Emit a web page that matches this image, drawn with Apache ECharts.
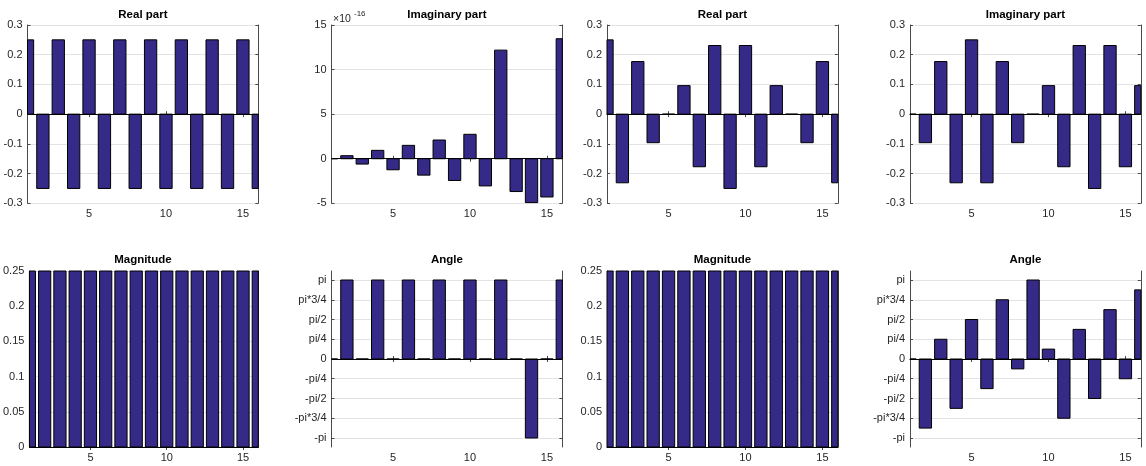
<!DOCTYPE html>
<html><head><meta charset="utf-8">
<script src="https://cdn.jsdelivr.net/npm/echarts@6/dist/echarts.min.js"></script>
<style>html,body{margin:0;padding:0;background:#fff}#c{width:1146px;height:466px}</style>
</head><body><div id="c"></div>
<script>
// ---------- data ----------
const xs = [1,2,3,4,5,6,7,8,9,10,11,12,13,14,15,16];
const realA = [0.25,-0.25,0.25,-0.25,0.25,-0.25,0.25,-0.25,0.25,-0.25,0.25,-0.25,0.25,-0.25,0.25,-0.25];
// imaginary part of first transform, in units of 1e-16
const imagA = [0,0.34,-0.6,0.94,-1.24,1.5,-1.84,2.1,-2.44,2.74,-3.05,12.18,-3.68,-4.92,-4.29,13.46];
const magA = [0.25,0.25,0.25,0.25,0.25,0.25,0.25,0.25,0.25,0.25,0.25,0.25,0.25,0.25,0.25,0.25];
const angA = [0,3.1416,0,3.1416,0,3.1416,0,3.1416,0,3.1416,0,3.1416,0,-3.1416,0,3.1416];
const realB = [0.25,-0.231,0.177,-0.096,0,0.096,-0.177,0.231,-0.25,0.231,-0.177,0.096,0,-0.096,0.177,-0.231];
const imagB = [0,-0.096,0.177,-0.231,0.25,-0.231,0.177,-0.096,0,0.096,-0.177,0.231,-0.25,0.231,-0.177,0.096];
const magB = [0.25,0.25,0.25,0.25,0.25,0.25,0.25,0.25,0.25,0.25,0.25,0.25,0.25,0.25,0.25,0.25];
const angB = [0,-2.749,0.785,-1.963,1.571,-1.178,2.356,-0.393,3.1416,0.393,-2.356,1.178,-1.571,1.963,-0.785,2.749];
const titles = ['Real part','Imaginary part','Real part','Imaginary part','Magnitude','Angle','Magnitude','Angle'];
const xTickValues = [5,10,15];
const angleTickLabels = ['-pi','-pi*3/4','-pi/2','-pi/4','0','pi/4','pi/2','pi*3/4','pi'];
const exponentLabel = ['\u00d710', '-16'];

// ---------- chart ----------
const PI = Math.PI;
const angleTickValues = angleTickLabels.map((_, k) => (k - 4) * PI / 4);
const seriesVals = [realA, imagA, realB, imagB, magA, angA, magB, angB];
const yCfg = [
  {min:-0.3,max:0.3,interval:0.1},
  {min:-5,max:15,interval:5},
  {min:-0.3,max:0.3,interval:0.1},
  {min:-0.3,max:0.3,interval:0.1},
  {min:0,max:0.25,interval:0.05},
  {min:-3.5,max:3.5,angle:true},
  {min:0,max:0.25,interval:0.05},
  {min:-3.5,max:3.5,angle:true}
];
const lefts = [27.5, 331.5, 607, 910];
const W = 230.8;
const rowTop = [25, 271], rowH = [178.3, 176];
const titleY = [15, 260];
const FONT = "'Liberation Sans', Arial, Helvetica, sans-serif";
const FS = 11;
const AX = '#4a4a4a', TXT = '#262626', GRID = '#e3e3e3', BAR = '#352a87';

const grid = [], xAxis = [], yAxis = [], series = [], graphic = [];

function renderBar(params, api) {
  const x = api.value(0), y = api.value(1);
  const p0 = api.coord([x - 0.4, y]);
  const p1 = api.coord([x + 0.4, 0]);
  const rect = {x: p0[0], y: Math.min(p0[1], p1[1]), width: p1[0] - p0[0], height: Math.abs(p1[1] - p0[1])};
  const cs = params.coordSys;
  const c = echarts.graphic.clipRectByRect(rect, {x: cs.x, y: cs.y, width: cs.width, height: cs.height});
  if (!c) return;
  return {type: 'rect', shape: c, style: {fill: BAR, stroke: '#000', lineWidth: 1}};
}

for (let i = 0; i < 8; i++) {
  const row = Math.floor(i / 4), col = i % 4;
  grid.push({left: lefts[col], top: rowTop[row], width: W, height: rowH[row], containLabel: false});
  const yc = yCfg[i];
  const xBase = {gridIndex: i, type: 'value', min: 1, max: 16,
    axisLine: {show: true, lineStyle: {color: AX, width: 1}},
    axisTick: {show: true, inside: true, length: 3, customValues: xTickValues, lineStyle: {color: AX}},
    splitLine: {show: false}};
  xAxis.push(Object.assign({}, xBase, {position: 'bottom',
    axisLabel: {show: true, customValues: xTickValues, margin: 5, color: TXT, fontSize: FS, fontFamily: FONT}}));
  xAxis.push(Object.assign({}, xBase, {position: 'top', axisLabel: {show: false}}));
  const yBase = {gridIndex: i, type: 'value', min: yc.min, max: yc.max,
    axisLine: {show: true, lineStyle: {color: AX, width: 1}}};
  if (yc.angle) {
    yBase.axisTick = {show: true, inside: true, length: 3, customValues: angleTickValues, lineStyle: {color: AX}};
  } else {
    yBase.interval = yc.interval;
    yBase.axisTick = {show: true, inside: true, length: 3, lineStyle: {color: AX}};
  }
  const lbl = {show: true, margin: 5, color: TXT, fontSize: FS, fontFamily: FONT, showMinLabel: true, showMaxLabel: true};
  if (yc.angle) {
    lbl.customValues = angleTickValues;
    lbl.formatter = v => angleTickLabels[Math.round(v / (PI / 4)) + 4];
  }
  yAxis.push(Object.assign({}, yBase, {position: 'left', axisLabel: lbl,
    splitLine: {show: true, lineStyle: {color: GRID, width: 1}}}));
  yAxis.push(Object.assign({}, yBase, {position: 'right', axisLabel: {show: false}, splitLine: {show: false}}));

  series.push({
    type: 'custom', xAxisIndex: 2 * i, yAxisIndex: 2 * i,
    renderItem: renderBar,
    data: xs.map((x, k) => [x, seriesVals[i][k]]),
    silent: true, animation: false,
    markLine: {silent: true, symbol: ['none', 'none'], label: {show: false},
      lineStyle: {color: '#000', width: 1, type: 'solid'}, data: [{yAxis: 0}], animation: false}
  });

  graphic.push({type: 'text', x: lefts[col] + W / 2, y: titleY[row],
    style: {text: titles[i], fill: '#000', font: 'bold 11.5px ' + FONT, textAlign: 'center', textVerticalAlign: 'middle'}});
}
// exponent label for the tiny imaginary part
graphic.push({type: 'text', x: lefts[1] + 1.5, y: 19.5,
  style: {text: exponentLabel[0], fill: TXT, font: '10.5px ' + FONT, textAlign: 'left', textVerticalAlign: 'middle'}});
graphic.push({type: 'text', x: lefts[1] + 22.5, y: 14,
  style: {text: exponentLabel[1], fill: TXT, font: '8px ' + FONT, textAlign: 'left', textVerticalAlign: 'middle'}});

const chart = echarts.init(document.getElementById('c'), null, {renderer: 'canvas'});
chart.setOption({animation: false, backgroundColor: '#fff', grid, xAxis, yAxis, series, graphic});
</script>
</body></html>
